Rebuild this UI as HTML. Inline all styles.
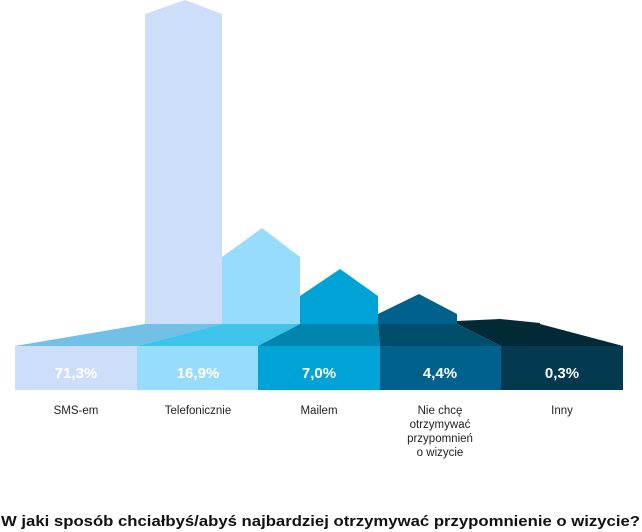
<!DOCTYPE html>
<html><head><meta charset="utf-8"><style>
html,body{margin:0;padding:0;background:#fff;}
svg{display:block;font-family:"Liberation Sans",sans-serif;}
</style></head><body>
<svg width="642" height="532" viewBox="0 0 642 532">
<polygon points="145,324 145,14 185,0 222,14 222,324" fill="#ccdefa"/>
<polygon points="222,324 222,257 262,228 300,257 300,324" fill="#97dcfa"/>
<polygon points="300,324 300,296 340,269 378,296 378,324" fill="#00a3d6"/>
<polygon points="378,324 378,314 419,294 457,314 457,324" fill="#00628c"/>
<polygon points="457,324 457,321 500,319 540,323 540,324" fill="#022a36"/>
<polygon points="15,346 145,324 222,324 137,346" fill="#72c0e8"/>
<polygon points="137,346 222,324 300,324 258,346" fill="#3ec3ea"/>
<polygon points="258,346 300,324 378,324 380,346" fill="#0086ae"/>
<polygon points="380,346 378,324 457,324 501,346" fill="#014e6c"/>
<polygon points="501,346 457,324 540,324 623,346" fill="#022a36"/>
<rect x="15" y="346" width="122" height="44" fill="#ccdefa"/>
<rect x="137" y="346" width="121" height="44" fill="#97dcfa"/>
<rect x="258" y="346" width="122" height="44" fill="#00a3d6"/>
<rect x="380" y="346" width="121" height="44" fill="#00628c"/>
<rect x="501" y="346" width="122" height="44" fill="#043a4f"/>
<g fill="#fff" font-size="15" font-weight="bold" text-anchor="middle">
<text x="76" y="378">71,3%</text>
<text x="198" y="378">16,9%</text>
<text x="319" y="378">7,0%</text>
<text x="440" y="378">4,4%</text>
<text x="562" y="378">0,3%</text>
</g>
<g fill="#222" font-size="11.5" text-anchor="middle">
<text x="76" y="414">SMS-em</text>
<text x="198" y="414">Telefonicznie</text>
<text x="319" y="414">Mailem</text>
<text x="440" y="414">Nie chcę</text>
<text x="440" y="428">otrzymywać</text>
<text x="440" y="442">przypomnień</text>
<text x="440" y="456">o wizycie</text>
<text x="562" y="414">Inny</text>
</g>
<text x="1" y="526" font-size="14.5" font-weight="bold" fill="#111" textLength="639" lengthAdjust="spacingAndGlyphs">W jaki sposób chciałbyś/abyś najbardziej otrzymywać przypomnienie o wizycie?</text>
</svg>
</body></html>
